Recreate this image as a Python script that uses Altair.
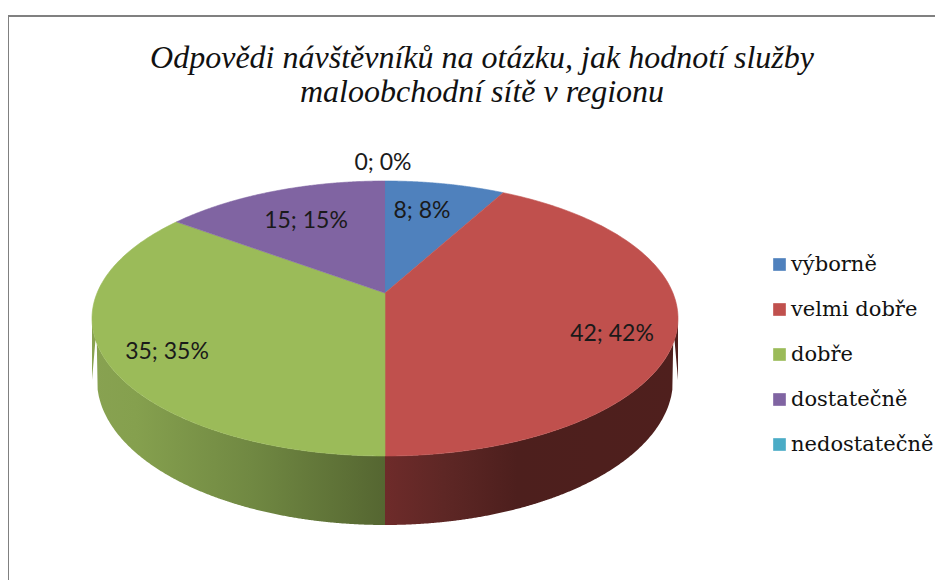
import math
import numpy as np
import pandas as pd
import altair as alt

categories = ["výborně", "velmi dobře", "dobře", "dostatečně", "nedostatečně"]
values = [8, 42, 35, 15, 0]
colors = ["#4F81BD", "#C0504D", "#9BBB59", "#8064A2", "#4BACC6"]
title_lines = ["Odpovědi návštěvníků na otázku, jak hodnotí služby", "maloobchodní sítě v regionu"]
labels = [f"{v}; {round(100 * v / sum(values))}%" for v in values]

# layout of the tilted pie (page pixels)
W, H = 927, 572
CX, CY, RX, RY = 385, 318.5, 293, 137.5
AX, AY = 385, 293                # where the slices meet (perspective)
BCY, BRX, BRY = 380, 288, 145    # lower rim
K = 0.82                         # perspective of the slice angles
label_x = [422, 612, 167, 306, 383]
label_y = [211, 334, 352, 221, 163]

xs = alt.Scale(domain=[8, 8 + W], range=[0, W])
ys = alt.Scale(domain=[8 + H, 8], range=[H, 0])
X = lambda f="x": alt.X(f"{f}:Q", scale=xs, axis=None)
Y = lambda f="y": alt.Y(f"{f}:Q", scale=ys, axis=None)


def warp(frac):
    """Share of the circle -> parameter on the ellipse, clockwise from the top."""
    phi = 2 * math.pi * frac
    if frac >= 1:
        return 2 * math.pi
    if abs(frac - 0.5) < 1e-9:
        return math.pi
    t = 2 * math.atan(K * math.tan(phi / 2))
    return t if t >= 0 else t + 2 * math.pi


rows = []
total = sum(values)
cum = 0
for cat, v in zip(categories, values):
    if v == 0:
        continue
    t0, t1 = warp(cum / total), warp((cum + v) / total)
    rows.append({"cat": cat, "i": 0, "x": AX, "y": AY})
    for j, t in enumerate(np.linspace(t0, t1, 160)):
        rows.append({"cat": cat, "i": j + 1,
                     "x": CX + RX * math.sin(t), "y": CY - RY * math.cos(t)})
    cum += v
slices = pd.DataFrame(rows)

color_scale = alt.Scale(domain=categories, range=colors)
pie = alt.Chart(slices).mark_line(strokeWidth=0.6, strokeJoin="round", interpolate="linear").encode(
    x=X(), y=Y(),
    order="i:Q",
    fill=alt.Fill("cat:N", scale=color_scale, legend=alt.Legend(
        title=None, orient="none", legendX=761, legendY=246,
        symbolType="square", symbolSize=160, symbolStrokeWidth=0, symbolOpacity=1,
        labelFont="DejaVu Serif", labelFontSize=21, labelColor="#111111",
        labelOffset=1, rowPadding=23, labelLimit=200, padding=0)),
    stroke=alt.Stroke("cat:N", scale=color_scale, legend=None),
)


def wall(side):
    px = np.linspace(0, RX, 260)
    top = CY + RY * np.sqrt(1 - (px / RX) ** 2)
    inner = np.clip(px / BRX, 0, 1)
    bottom = BCY + BRY * np.sqrt(1 - inner ** 2)
    edge = px > BRX
    bottom[edge] = BCY + (RX - px[edge]) / (RX - BRX) * (CY + 4 - BCY)
    return pd.DataFrame({"x": CX + side * px, "y": top, "y2": bottom})


def grad(stops):
    return alt.Gradient(gradient="linear", x1=0, x2=1, y1=0, y2=0,
                        stops=[alt.GradientStop(offset=o, color=c) for o, c in stops])


wall_red = alt.Chart(wall(1)).mark_area(
    interpolate="linear", orient="vertical",
    fill=grad([(0, "#6E2B2A"), (0.2, "#5E2725"), (0.45, "#4D1F1D"), (1, "#4F1F1D")])
).encode(x=X(), y=Y(), y2=alt.Y2("y2:Q"))
wall_green = alt.Chart(wall(-1)).mark_area(
    interpolate="linear", orient="vertical",
    fill=grad([(0, "#88A251"), (0.15, "#85A04E"), (0.55, "#708842"), (1, "#556631")])
).encode(x=X(), y=Y(), y2=alt.Y2("y2:Q"))

slice_labels = alt.Chart(pd.DataFrame({"x": label_x, "y": label_y, "t": labels})).mark_text(
    font="Lato", fontSize=23, color="#1a1a1a", align="center", baseline="middle"
).encode(x=X(), y=Y(), text="t:N")

title = alt.Chart(pd.DataFrame({"x": [482, 482], "y": [58, 92], "t": title_lines})).mark_text(
    font="Liberation Serif", fontStyle="italic", fontSize=32, color="#111111",
    align="center", baseline="middle"
).encode(x=X(), y=Y(), text="t:N")

frame_left = alt.Chart(pd.DataFrame({"x": [8], "y": [16], "y2": [580]})).mark_rule(
    color="#808080", strokeWidth=2).encode(x=X(), y=Y(), y2="y2:Q")
frame_top = alt.Chart(pd.DataFrame({"x": [8], "x2": [935], "y": [16]})).mark_rule(
    color="#808080", strokeWidth=2).encode(x=X(), x2="x2:Q", y=Y())

chart = alt.layer(frame_left, frame_top, wall_green, wall_red, pie, slice_labels, title).properties(
    width=W, height=H, padding=0,
    autosize=alt.AutoSizeParams(type="none"),
).configure_view(stroke=None)

chart.save("out.html", embed_options={"renderer": "svg", "actions": False})
